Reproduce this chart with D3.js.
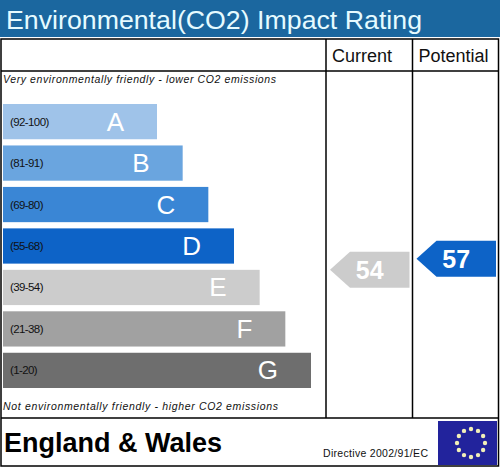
<!DOCTYPE html>
<html>
<head>
<meta charset="utf-8">
<script src="https://cdn.jsdelivr.net/npm/d3@7"></script>
<style>
  body { margin: 0; background: #fff; }
  svg { display: block; font-family: Arial, "Liberation Sans", sans-serif; }
</style>
</head>
<body>
<div id="chart"></div>
<script>
// bands and their ranges
var bands = ["A", "B", "C", "D", "E", "F", "G"];
var ranges = ["(92-100)", "(81-91)", "(69-80)", "(55-68)", "(39-54)", "(21-38)", "(1-20)"];
var bandMin = [92, 81, 69, 55, 39, 21, 1];
var bandColors = ["#9fc3e9", "#6aa5df", "#3a86d5", "#0d63c7", "#cccccc", "#a1a1a1", "#6e6e6e"];

// ratings
var columns = ["Current", "Potential"];
var ratings = [54, 57];

var w = 500;
var h = 468;

var svg = d3.select("#chart")
  .append("svg")
  .attr("width", w)
  .attr("height", h);

// title bar
svg.append("rect")
  .attr("x", 0).attr("y", 0)
  .attr("width", w).attr("height", 37)
  .attr("fill", "#1b679f");

svg.append("text")
  .attr("x", 6).attr("y", 29)
  .attr("font-size", "26.7px")
  .attr("textLength", 416)
  .attr("lengthAdjust", "spacing")
  .attr("fill", "#e6fbff")
  .text("Environmental(CO2) Impact Rating");

// scales
var y = d3.scaleBand()
  .domain(bands)
  .range([104, 388])
  .paddingInner(0.15);

var barW = d3.scaleLinear()
  .domain([0, bands.length - 1])
  .range([154, 308]);

var rateY = d3.scaleLinear()
  .domain([1, 100])
  .range([464, 101]);

var colX = d3.scaleBand()
  .domain(columns)
  .range([326, 499]);

function bandOf(v) {
  for (var i = 0; i < bandMin.length; i++) {
    if (v >= bandMin[i]) return i;
  }
  return bandMin.length - 1;
}

// bars
var bars = svg.selectAll("g.band")
  .data(bands)
  .enter()
  .append("g")
  .attr("class", "band");

bars.append("rect")
  .attr("x", 3)
  .attr("y", function(d) { return y(d); })
  .attr("width", function(d, i) { return barW(i); })
  .attr("height", y.bandwidth())
  .attr("fill", function(d, i) { return bandColors[i]; });

bars.append("text")
  .attr("x", 10)
  .attr("y", function(d) { return y(d) + y.bandwidth() / 2 + 4; })
  .attr("font-size", "11.5px")
  .attr("letter-spacing", "-0.6px")
  .attr("fill", "#111")
  .text(function(d, i) { return ranges[i]; });

bars.append("text")
  .attr("x", function(d, i) { return 3 + barW(i) - 33; })
  .attr("y", function(d) { return y(d) + y.bandwidth() / 2 + 9; })
  .attr("text-anchor", "end")
  .attr("font-size", "26px")
  .attr("fill", "#fff")
  .text(function(d) { return d; });

// italic notes
svg.append("text")
  .attr("x", 3).attr("y", 83)
  .attr("font-size", "10.5px")
  .attr("font-style", "italic")
  .attr("textLength", 273)
  .attr("lengthAdjust", "spacing")
  .attr("fill", "#111")
  .text("Very environmentally friendly - lower CO2 emissions");

svg.append("text")
  .attr("x", 3).attr("y", 410)
  .attr("font-size", "10.5px")
  .attr("font-style", "italic")
  .attr("textLength", 275)
  .attr("lengthAdjust", "spacing")
  .attr("fill", "#111")
  .text("Not environmentally friendly - higher CO2 emissions");

// rating arrows
var arrowH = 36;
var arrows = svg.selectAll("g.rating")
  .data(ratings)
  .enter()
  .append("g")
  .attr("class", "rating");

arrows.append("path")
  .attr("d", function(d, i) {
    var x0 = colX(columns[i]) + 4;
    var x1 = colX(columns[i]) + colX.bandwidth() - 3;
    var cy = rateY(d);
    return "M" + x0 + "," + cy +
      "L" + (x0 + 20) + "," + (cy - arrowH / 2) +
      "L" + x1 + "," + (cy - arrowH / 2) +
      "L" + x1 + "," + (cy + arrowH / 2) +
      "L" + (x0 + 20) + "," + (cy + arrowH / 2) + "Z";
  })
  .attr("fill", function(d) { return bandColors[bandOf(d)]; });

arrows.append("text")
  .attr("x", function(d, i) { return colX(columns[i]) + 4 + (colX.bandwidth() - 7) / 2; })
  .attr("y", function(d) { return rateY(d) + 9; })
  .attr("text-anchor", "middle")
  .attr("font-size", "25px")
  .attr("font-weight", "bold")
  .attr("fill", "#fff")
  .text(function(d) { return d; });

// column headers
svg.selectAll("text.col")
  .data(columns)
  .enter()
  .append("text")
  .attr("class", "col")
  .attr("x", function(d) { return colX(d) + 6; })
  .attr("y", 62)
  .attr("font-size", "18px")
  .attr("fill", "#111")
  .text(function(d) { return d; });

// table lines
var lines = svg.append("g")
  .attr("stroke", "#000")
  .attr("stroke-width", 1.5)
  .attr("fill", "none");

lines.append("rect")
  .attr("x", 1).attr("y", 39)
  .attr("width", 497.5).attr("height", 427);

lines.append("line").attr("x1", 1).attr("x2", 499).attr("y1", 71).attr("y2", 71);
lines.append("line").attr("x1", 1).attr("x2", 499).attr("y1", 418).attr("y2", 418);

lines.selectAll("line.col")
  .data(columns)
  .enter()
  .append("line")
  .attr("class", "col")
  .attr("x1", function(d) { return colX(d); })
  .attr("x2", function(d) { return colX(d); })
  .attr("y1", 39).attr("y2", 418);

// footer
svg.append("text")
  .attr("x", 4).attr("y", 452)
  .attr("font-size", "27px")
  .attr("font-weight", "bold")
  .attr("fill", "#000")
  .text("England & Wales");

svg.append("text")
  .attr("x", 323).attr("y", 457)
  .attr("font-size", "10.5px")
  .attr("textLength", 105)
  .attr("lengthAdjust", "spacing")
  .attr("fill", "#111")
  .text("Directive 2002/91/EC");

// EU flag
svg.append("rect")
  .attr("x", 438).attr("y", 421)
  .attr("width", 59).attr("height", 44)
  .attr("fill", "#22239c");

svg.selectAll("circle.star")
  .data(d3.range(12))
  .enter()
  .append("circle")
  .attr("class", "star")
  .attr("cx", function(d) { return 471 + 14 * Math.cos(d * Math.PI / 6); })
  .attr("cy", function(d) { return 443 + 14 * Math.sin(d * Math.PI / 6); })
  .attr("r", 2.2)
  .attr("fill", "#f2f0b8");
</script>
</body>
</html>
